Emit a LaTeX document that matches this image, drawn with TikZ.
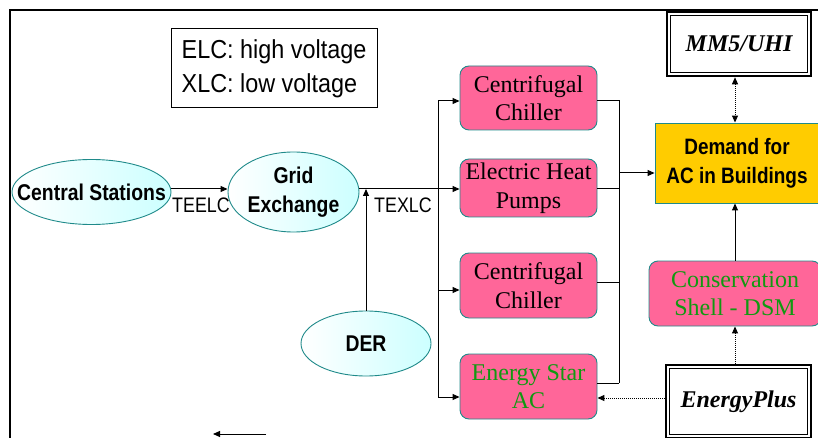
\documentclass[tikz,border=0pt]{standalone}
\usepackage{fontspec}
\setmainfont{Liberation Serif}
\newfontfamily\arialf{Liberation Sans}[FakeStretch=0.9]
\newfontfamily\arialn{Liberation Sans}[FakeStretch=0.85]
\usetikzlibrary{shapes.geometric,arrows.meta,calc}
\definecolor{tealb}{HTML}{1F8A8A}
\definecolor{pinkf}{HTML}{FF6699}
\definecolor{goldf}{HTML}{FFCC00}
\definecolor{cyanf}{HTML}{CCFFFF}
\definecolor{greent}{HTML}{119911}
\tikzset{
  oval/.style={ellipse, draw=tealb, line width=0.9pt, left color=white, right color=cyanf, inner xsep=-30pt, inner ysep=0pt,
    font=\arialn\bfseries\fontsize{22.8}{29}\selectfont, align=center},
  pbox/.style={rectangle, rounded corners=9pt, draw=tealb, line width=0.9pt, fill=pinkf,
    minimum width=137pt, inner sep=0pt, align=center,
    execute at begin node={\rule{0pt}{27pt}},
    font=\fontsize{24}{28.5}\selectfont},
  dbox/.style={rectangle, draw=black, line width=2.6pt, fill=white, inner sep=0pt,
    font=\bfseries\itshape\fontsize{24}{28}\selectfont},
  innerframe/.style={draw=black, line width=1pt},
  conn/.style={line width=1pt, -{Triangle[length=7pt,width=6pt]}},
  wire/.style={line width=1pt},
  dotc/.style={line width=1pt, densely dotted},
  lbl/.style={font=\arialn\fontsize{21}{22}\selectfont, inner sep=0pt}
}
\begin{document}
\begin{tikzpicture}[x=1pt,y=-1pt]
\useasboundingbox (0,0) rectangle (818,438);
% outer frame
\draw[line width=2.6pt, line cap=rect] (820,10) -- (10,10) -- (10,440);
% legend
\node[draw=black, line width=1pt, minimum width=206pt, minimum height=79pt, align=left, inner sep=0pt,
  font=\arialf\fontsize{26}{34}\selectfont] (legend) at (274,68.5) {ELC: high voltage\\XLC: low voltage};
% ellipses
\node[oval, minimum width=159pt, minimum height=65pt] (cs) at (91.5,192) {Central Stations};
\node[oval, minimum width=131pt, minimum height=80pt] (ge) at (293.5,192) {Grid\\Exchange};
\node[oval, minimum width=130pt, minimum height=65pt] (der) at (366,343.5) {DER};
% pink boxes
\node[pbox, minimum height=64pt] (cc1) at (528.5,98) {Centrifugal\\Chiller};
\node[pbox, minimum height=58pt] (ehp) at (528.5,188) {Electric Heat\\Pumps};
\node[pbox, minimum height=65pt] (cc2) at (528.5,285.5) {Centrifugal\\Chiller};
\node[pbox, minimum height=65pt, text=greent] (esac) at (528.5,386.5) {Energy Star\\AC};
\node[pbox, minimum width=172pt, minimum height=65pt, text=greent] (cons) at (735,293.5) {Conservation\\Shell - DSM};
% demand
\node[rectangle, draw=tealb, line width=0.9pt, fill=goldf, minimum width=164pt, minimum height=80pt, inner sep=0pt,
  align=center, font=\arialn\bfseries\fontsize{22.3}{29}\selectfont] (dem) at (737,163) {Demand for\\AC in Buildings};
% double boxes
\node[dbox, minimum width=144pt, minimum height=64pt] (mm5) at (739,44) {MM5/UHI};
\node[dbox, minimum width=145pt, minimum height=73pt] (ep) at (738.5,401.5) {EnergyPlus};
\foreach \b in {mm5,ep}
  \draw[innerframe] ($(\b.north west)+(4.5pt,-4.5pt)$) rectangle ($(\b.south east)+(-4.5pt,4.5pt)$);
% connectors
\draw[conn] (cs.east |- 0,189) coordinate (a1) -- (ge.west |- a1);
\node[lbl, anchor=north] (teelc) at (201,198) {TEELC};
\node[lbl, anchor=north] (texlc) at (403,198) {TEXLC};
\coordinate (busL) at (438,189);
\draw[conn] (ge.east |- busL) -- (ehp.west |- busL);
\draw[wire] (438,101) -- (438,397);
\draw[conn] (438,101) -- (cc1.west |- 0,101);
\draw[conn] (438,290) -- (cc2.west |- 0,290);
\draw[conn] (438,397) -- (esac.west |- 0,397);
\draw[conn] (der.north) -- (der.north |- busL);
% right bus
\draw[wire] (cc1.east |- 0,101) -| (619,383);
\draw[wire] (ehp.east |- 0,189) -- (619,189);
\draw[wire] (cc2.east |- 0,282) -- (619,282);
\draw[wire] (esac.east |- 0,383) -- (619,383);
\draw[conn] (619,173) -- (dem.west |- 0,173);
% right column
\draw[dotc, {Triangle[length=7pt,width=6pt]}-{Triangle[length=7pt,width=6pt]}] (mm5.south -| 735,0) -- (dem.north -| 735,0);
\draw[conn] (cons.north -| 735,0) -- (dem.south -| 735,0);
\draw[dotc, -{Triangle[length=7pt,width=6pt]}] (ep.north -| 735,0) -- (cons.south -| 735,0);
\draw[dotc, -{Triangle[length=7pt,width=6pt]}] (ep.west |- 0,398) -- (esac.east |- 0,398);
% stray arrow at bottom
\coordinate (sa) at (266,434);
\coordinate (sb) at (213,434);
\draw[conn] (sa) -- (sb);
\end{tikzpicture}
\end{document}
